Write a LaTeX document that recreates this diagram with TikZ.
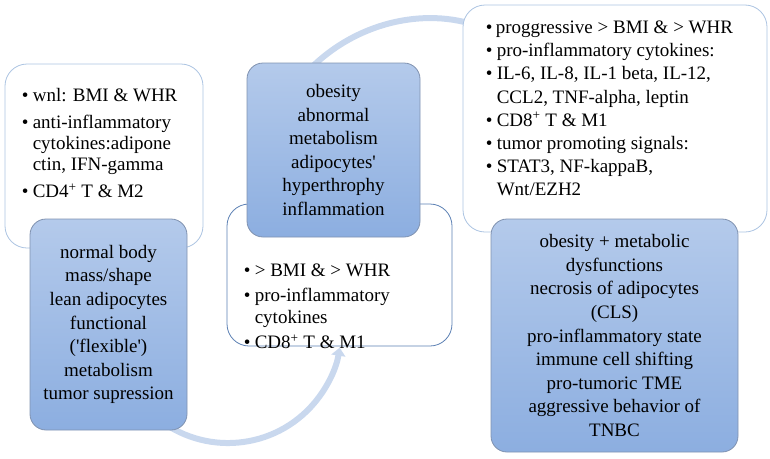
\documentclass[tikz,border=0pt]{standalone}
\usepackage{fontspec}
\setmainfont{Liberation Serif}
\usetikzlibrary{arrows.meta}
\definecolor{flowblue}{RGB}{201,216,238}
\definecolor{lightedge}{RGB}{172,196,226}
\definecolor{midedge}{RGB}{92,128,180}
\definecolor{boxedge}{RGB}{128,146,176}
\definecolor{bluetop}{RGB}{180,202,235}
\definecolor{bluebot}{RGB}{140,174,224}
\newlength{\bulw}
\setlength{\bulw}{11pt}
\newcommand{\bul}{\makebox[\bulw][l]{\textbullet}}
\newcommand{\ind}{\makebox[\bulw]{}}
\begin{document}
\begin{tikzpicture}[x=1pt,y=-1pt,
    outerbox/.style={draw=lightedge,fill=white,line width=0.8pt,rounded corners=22pt,inner sep=0pt},
    innerbox/.style={draw=boxedge,line width=0.8pt,rounded corners=16pt,top color=bluetop,bottom color=bluebot,inner sep=0pt,align=center,font=\fontsize{19}{23.6}\selectfont},
    listtext/.style={anchor=north west,inner sep=0pt,align=left,font=\fontsize{19}{21}\selectfont},
    flow/.style={line width=6pt,draw=flowblue,-{Triangle[length=8pt,width=14pt]}}]
        \useasboundingbox (0,0) rectangle (770,458);

        \coordinate (loopstart) at (155.4,416.6);
        \coordinate (topstart) at (300.5,79.4);
        \draw[flow] (loopstart) arc[start angle=130, end angle=9, radius=113];
        \draw[flow] (topstart) arc[start angle=-140, end angle=-72, radius=169];

        \node[outerbox,minimum width=198pt,minimum height=184pt] (leanframe) at (104,156) {};
        \node[outerbox,draw=midedge,minimum width=225pt,minimum height=142pt] (obeseframe) at (339.5,275) {};
        \node[outerbox,minimum width=304pt,minimum height=227pt] (tnbcframe) at (615,118.5) {};

        \node[listtext] (leanlist) at ([xshift=17pt,yshift=-25pt]leanframe.north west)
            {\bul wnl: BMI \& WHR\\[6pt]
             \bul anti-inflammatory\\
             \ind cytokines:adipone\\
             \ind ctin, IFN-gamma\\[6pt]
             \bul CD4\textsuperscript{+} T \& M2};
        \node[listtext,font=\fontsize{19}{22}\selectfont] (obeselist) at ([xshift=17pt,yshift=-60pt]obeseframe.north west)
            {\bul > BMI \& > WHR\\[3pt]
             \bul pro-inflammatory\\
             \ind cytokines\\[3pt]
             \bul CD8\textsuperscript{+} T \& M1};
        \node[listtext,font=\fontsize{19}{23.2}\selectfont] (tnbclist) at ([xshift=23pt,yshift=-16pt]tnbcframe.north west)
            {\setlength{\bulw}{10pt}%
             \bul proggressive > BMI \& > WHR\\
             \bul pro-inflammatory cytokines:\\
             \bul IL-6, IL-8, IL-1 beta, IL-12,\\
             \ind CCL2, TNF-alpha, leptin\\
             \bul CD8\textsuperscript{+} T \& M1\\
             \bul tumor promoting signals:\\
             \bul STAT3, NF-kappaB,\\
             \ind Wnt/EZH2};

        \node[innerbox,minimum width=157pt,minimum height=211pt] (lean) at (108.5,324.5)
            {normal body\\ mass/shape\\ lean adipocytes\\ functional\\ (\textquotesingle flexible\textquotesingle)\\ metabolism\\ tumor supression};
        \node[innerbox,minimum width=173pt,minimum height=174pt] (obese) at (333.5,150)
            {obesity\\ abnormal\\ metabolism\\ adipocytes\textquotesingle\\ hyperthrophy\\ inflammation};
        \node[innerbox,minimum width=247pt,minimum height=233pt] (tnbc) at (614.5,335.5)
            {obesity + metabolic\\ dysfunctions\\ necrosis of adipocytes\\ (CLS)\\ pro-inflammatory state\\ immune cell shifting\\ pro-tumoric TME\\ aggressive behavior of\\ TNBC};
\end{tikzpicture}
\end{document}
